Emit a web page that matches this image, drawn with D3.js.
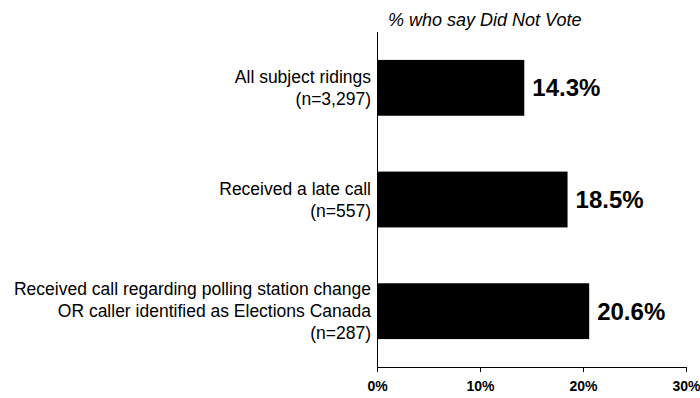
<!DOCTYPE html>
<html>
<head>
<meta charset="utf-8">
<script src="https://cdn.jsdelivr.net/npm/d3@7"></script>
<style>
  html, body { margin: 0; padding: 0; background: #fff; }
  svg { display: block; font-family: Arial, "Liberation Sans", sans-serif; }
</style>
</head>
<body>
<svg id="chart" width="700" height="398"></svg>
<script>
// Survey groups (label lines) and share who say they did not vote
const categories = [
  ["All subject ridings", "(n=3,297)"],
  ["Received a late call", "(n=557)"],
  ["Received call regarding polling station change", "OR caller identified as Elections Canada", "(n=287)"]
];
const values = [14.3, 18.5, 20.6];
const tickValues = [0, 10, 20, 30];
const title = "% who say Did Not Vote";

const svg = d3.select("#chart");
const x0 = 377, x1 = 686, yTop = 32, yBottom = 367;

const x = d3.scaleLinear().domain([0, 30]).range([x0, x1]);
const y = d3.scaleBand()
  .domain(d3.range(values.length))
  .range([yTop, yBottom])
  .paddingInner(0.5)
  .paddingOuter(0.25);

// Bars
svg.append("g").selectAll("rect")
  .data(values)
  .join("rect")
  .attr("x", x(0))
  .attr("y", (d, i) => y(i))
  .attr("width", d => x(d) - x(0))
  .attr("height", y.bandwidth())
  .attr("fill", "#000");

// Value labels
svg.append("g").selectAll("text")
  .data(values)
  .join("text")
  .attr("x", d => x(d) + 8)
  .attr("y", (d, i) => y(i) + y.bandwidth() / 2)
  .attr("dy", "0.36em")
  .attr("font-size", 24)
  .attr("font-weight", "bold")
  .attr("fill", "#000")
  .text(d => d.toFixed(1) + "%");

// Category labels, multi-line, right aligned against the axis
const lineH = 22;
const cat = svg.append("g").selectAll("text")
  .data(categories)
  .join("text")
  .attr("text-anchor", "end")
  .attr("font-size", 17.5)
  .attr("fill", "#000")
  .attr("transform", (d, i) => `translate(371,${y(i) + y.bandwidth() / 2})`);
cat.selectAll("tspan")
  .data(d => d.map((t, k) => ({ t, k, n: d.length })))
  .join("tspan")
  .attr("x", 0)
  .attr("y", d => (d.k - (d.n - 1) / 2) * lineH)
  .attr("dy", "0.36em")
  .text(d => d.t);

// Bottom axis
const xAxis = d3.axisBottom(x)
  .tickValues(tickValues)
  .tickSize(5)
  .tickPadding(9)
  .tickFormat(d => d + "%");
const gx = svg.append("g")
  .attr("transform", `translate(0,${yBottom})`)
  .call(xAxis);
gx.select(".domain").attr("d", `M${x0},0.5H${x1}`).attr("stroke", "#000");
gx.selectAll(".tick line").attr("stroke", "#000");
gx.selectAll(".tick text")
  .attr("font-size", 14)
  .attr("font-weight", "bold")
  .attr("font-family", "Arial, 'Liberation Sans', sans-serif")
  .attr("fill", "#000");

// Vertical category axis line
svg.append("line")
  .attr("x1", x0 + 0.5).attr("x2", x0 + 0.5)
  .attr("y1", yTop).attr("y2", yBottom + 1)
  .attr("stroke", "#000");

// Title
svg.append("text")
  .attr("x", 388)
  .attr("y", 26)
  .attr("font-size", 18)
  .attr("font-style", "italic")
  .attr("fill", "#000")
  .text(title);
</script>
</body>
</html>
